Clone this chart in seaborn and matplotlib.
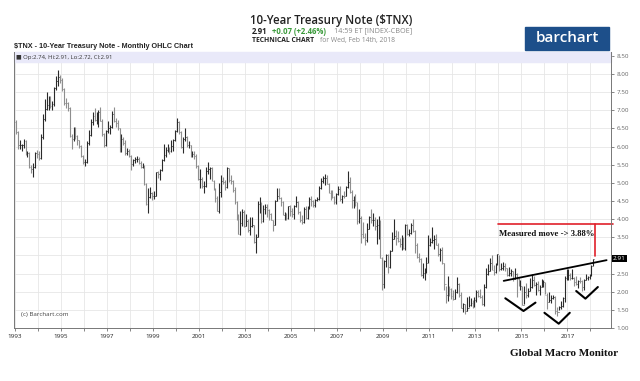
import numpy as np
import pandas as pd
import seaborn as sns
import matplotlib.pyplot as plt
import matplotlib.transforms as mtransforms
from matplotlib.patches import Rectangle

# monthly OHLC of $TNX, Jan 1993 .. Feb 2018 (one row per year)
opens = [
    6.69, 6.39, 6.03, 6.03, 6.04, 6.15, 5.78, 5.81, 5.44, 5.38, 5.43, 5.82,
    5.79, 5.69, 6.27, 6.75, 7.03, 7.14, 7.32, 7.11, 7.18, 7.60, 7.81, 7.91,
    7.82, 7.59, 7.21, 7.20, 7.06, 6.28, 6.20, 6.44, 6.28, 6.17, 6.02, 5.74,
    5.57, 5.58, 6.10, 6.33, 6.67, 6.85, 6.73, 6.80, 6.96, 6.71, 6.34, 6.04,
    6.42, 6.50, 6.55, 6.90, 6.71, 6.66, 6.50, 5.89, 6.22, 6.10, 5.83, 5.87,
    5.74, 5.51, 5.62, 5.66, 5.67, 5.55, 5.45, 5.49, 4.98, 4.42, 4.61, 4.71,
    4.65, 4.65, 5.29, 5.24, 5.35, 5.62, 5.78, 5.90, 5.97, 5.88, 6.02, 6.19,
    6.44, 6.67, 6.41, 6.00, 6.21, 6.27, 6.03, 6.03, 5.73, 5.80, 5.75, 5.47,
    5.11, 5.11, 4.90, 4.92, 5.34, 5.38, 5.41, 5.05, 4.83, 4.59, 4.23, 4.75,
    5.05, 5.03, 4.88, 5.40, 5.09, 5.04, 4.80, 4.46, 4.14, 3.60, 3.89, 4.21,
    3.81, 3.96, 3.69, 3.80, 3.84, 3.37, 3.51, 4.41, 4.46, 3.94, 4.29, 4.33,
    4.25, 4.13, 3.97, 3.84, 4.51, 4.65, 4.58, 4.47, 4.12, 4.12, 4.03, 4.36,
    4.22, 4.13, 4.36, 4.48, 4.20, 3.98, 3.91, 4.28, 4.02, 4.32, 4.56, 4.49,
    4.39, 4.52, 4.55, 4.85, 5.05, 5.12, 5.14, 4.98, 4.73, 4.63, 4.61, 4.46,
    4.70, 4.83, 4.56, 4.65, 4.63, 4.89, 5.02, 4.74, 4.54, 4.58, 4.47, 3.94,
    4.03, 3.59, 3.51, 3.43, 3.73, 4.06, 3.97, 3.99, 3.82, 3.83, 3.95, 2.92,
    2.21, 2.84, 3.01, 2.67, 3.12, 3.46, 3.53, 3.48, 3.40, 3.31, 3.38, 3.20,
    3.84, 3.60, 3.61, 3.83, 3.66, 3.29, 2.95, 2.91, 2.47, 2.51, 2.60, 2.79,
    3.29, 3.37, 3.42, 3.45, 3.29, 3.05, 3.16, 2.79, 2.22, 1.92, 2.11, 2.07,
    1.88, 1.80, 1.98, 2.21, 1.91, 1.56, 1.65, 1.47, 1.55, 1.63, 1.69, 1.61,
    1.76, 1.98, 1.88, 1.85, 1.67, 2.13, 2.49, 2.58, 2.78, 2.61, 2.55, 2.74,
    3.03, 2.64, 2.65, 2.72, 2.65, 2.47, 2.53, 2.56, 2.34, 2.49, 2.34, 2.16,
    2.17, 1.64, 1.99, 1.92, 2.03, 2.12, 2.33, 2.18, 2.21, 2.04, 2.14, 2.21,
    2.27, 1.92, 1.73, 1.77, 1.83, 1.85, 1.47, 1.45, 1.58, 1.60, 1.83, 2.38,
    2.44, 2.45, 2.39, 2.39, 2.28, 2.20, 2.30, 2.29, 2.12, 2.33, 2.38, 2.41,
    2.41, 2.74,
]
highs = [
    6.72, 6.42, 6.18, 6.08, 6.20, 6.17, 5.88, 5.84, 5.50, 5.55, 5.86, 5.90,
    5.88, 6.35, 6.90, 7.30, 7.50, 7.40, 7.40, 7.25, 7.65, 7.95, 8.10, 7.96,
    7.90, 7.62, 7.35, 7.22, 7.08, 6.35, 6.55, 6.55, 6.32, 6.18, 6.05, 5.78,
    5.67, 6.15, 6.45, 6.75, 6.95, 7.05, 6.95, 7.00, 7.08, 6.75, 6.37, 6.45,
    6.70, 6.60, 6.97, 7.08, 6.80, 6.72, 6.52, 6.35, 6.25, 6.18, 5.96, 5.92,
    5.76, 5.66, 5.72, 5.74, 5.72, 5.60, 5.55, 5.50, 5.00, 4.85, 4.88, 4.76,
    4.78, 5.31, 5.34, 5.38, 5.65, 6.08, 5.98, 6.06, 6.00, 6.19, 6.22, 6.46,
    6.79, 6.70, 6.43, 6.26, 6.51, 6.30, 6.14, 6.05, 5.88, 5.87, 5.79, 5.49,
    5.38, 5.17, 5.05, 5.44, 5.57, 5.45, 5.43, 5.07, 4.86, 4.64, 4.99, 5.23,
    5.16, 5.07, 5.44, 5.40, 5.23, 5.07, 4.88, 4.51, 4.15, 4.22, 4.28, 4.24,
    4.13, 4.00, 4.06, 4.05, 3.85, 3.58, 4.50, 4.61, 4.47, 4.40, 4.43, 4.42,
    4.27, 4.18, 3.99, 4.53, 4.87, 4.87, 4.60, 4.51, 4.20, 4.18, 4.37, 4.39,
    4.30, 4.38, 4.64, 4.50, 4.22, 4.11, 4.33, 4.37, 4.35, 4.62, 4.65, 4.52,
    4.55, 4.62, 4.90, 5.13, 5.19, 5.25, 5.22, 5.00, 4.80, 4.79, 4.65, 4.72,
    4.90, 4.90, 4.67, 4.78, 4.91, 5.32, 5.15, 4.79, 4.65, 4.70, 4.48, 4.28,
    4.08, 3.91, 3.63, 3.90, 4.08, 4.27, 4.17, 4.07, 4.01, 4.10, 3.99, 2.96,
    2.88, 3.05, 3.04, 3.16, 3.64, 4.00, 3.71, 3.68, 3.48, 3.55, 3.50, 3.86,
    3.88, 3.74, 3.90, 4.01, 3.69, 3.34, 3.07, 2.93, 2.78, 2.65, 2.95, 3.56,
    3.49, 3.77, 3.56, 3.59, 3.33, 3.20, 3.23, 2.80, 2.17, 2.42, 2.16, 2.09,
    2.06, 2.07, 2.40, 2.23, 1.98, 1.70, 1.66, 1.85, 1.88, 1.84, 1.77, 1.85,
    2.04, 2.06, 2.08, 1.90, 2.21, 2.66, 2.77, 2.93, 3.00, 2.74, 2.80, 3.04,
    3.01, 2.80, 2.82, 2.78, 2.66, 2.67, 2.63, 2.58, 2.65, 2.52, 2.40, 2.31,
    2.15, 2.15, 2.24, 2.10, 2.38, 2.50, 2.44, 2.28, 2.29, 2.18, 2.36, 2.33,
    2.27, 1.96, 1.99, 1.90, 1.92, 1.87, 1.59, 1.61, 1.74, 1.86, 2.42, 2.64,
    2.62, 2.52, 2.63, 2.41, 2.42, 2.33, 2.41, 2.32, 2.35, 2.48, 2.42, 2.50,
    2.73, 2.91,
]
lows = [
    6.35, 5.92, 5.93, 5.88, 5.96, 5.76, 5.70, 5.40, 5.28, 5.17, 5.40, 5.68,
    5.63, 5.65, 6.22, 6.70, 7.00, 7.00, 7.05, 7.02, 7.13, 7.55, 7.68, 7.75,
    7.52, 7.15, 7.05, 6.98, 6.25, 5.94, 6.15, 6.22, 6.05, 5.95, 5.70, 5.53,
    5.47, 5.55, 6.05, 6.30, 6.60, 6.70, 6.62, 6.55, 6.70, 6.30, 6.00, 6.02,
    6.38, 6.35, 6.52, 6.68, 6.55, 6.45, 5.85, 5.85, 6.05, 5.78, 5.76, 5.70,
    5.35, 5.46, 5.55, 5.58, 5.51, 5.40, 5.40, 4.95, 4.40, 4.16, 4.58, 4.52,
    4.55, 4.63, 5.13, 5.08, 5.33, 5.60, 5.72, 5.84, 5.79, 5.84, 5.87, 6.15,
    6.40, 6.34, 5.96, 5.83, 6.16, 5.98, 5.97, 5.71, 5.71, 5.66, 5.42, 5.09,
    4.87, 4.87, 4.72, 4.88, 5.25, 5.10, 5.04, 4.80, 4.47, 4.23, 4.18, 4.60,
    4.97, 4.80, 4.87, 5.03, 4.97, 4.76, 4.43, 3.98, 3.58, 3.57, 3.80, 3.78,
    3.82, 3.65, 3.57, 3.77, 3.33, 3.07, 3.50, 4.17, 3.90, 3.91, 4.14, 4.05,
    3.99, 3.97, 3.68, 3.83, 4.50, 4.55, 4.36, 4.11, 3.98, 3.97, 4.00, 4.10,
    4.06, 4.00, 4.34, 4.14, 3.93, 3.86, 3.90, 4.00, 4.00, 4.29, 4.36, 4.33,
    4.34, 4.50, 4.53, 4.84, 4.99, 4.95, 4.96, 4.72, 4.54, 4.58, 4.43, 4.42,
    4.67, 4.50, 4.44, 4.59, 4.63, 4.86, 4.72, 4.30, 4.30, 4.36, 3.86, 3.90,
    3.34, 3.47, 3.29, 3.37, 3.72, 3.90, 3.82, 3.69, 3.31, 3.45, 2.92, 2.04,
    2.11, 2.68, 2.51, 2.66, 3.12, 3.44, 3.28, 3.37, 3.22, 3.16, 3.19, 3.15,
    3.56, 3.54, 3.60, 3.64, 3.07, 2.94, 2.82, 2.42, 2.39, 2.33, 2.51, 2.78,
    3.26, 3.35, 3.18, 3.28, 2.98, 2.85, 2.77, 2.04, 1.70, 1.75, 1.87, 1.80,
    1.78, 1.79, 1.96, 1.86, 1.54, 1.44, 1.38, 1.47, 1.57, 1.61, 1.55, 1.58,
    1.72, 1.86, 1.82, 1.63, 1.61, 2.09, 2.45, 2.57, 2.59, 2.47, 2.51, 2.73,
    2.57, 2.59, 2.60, 2.58, 2.43, 2.44, 2.44, 2.30, 2.34, 1.86, 2.15, 2.06,
    1.64, 1.65, 1.84, 1.85, 2.03, 2.09, 2.15, 1.91, 2.02, 1.90, 2.13, 2.12,
    1.93, 1.53, 1.72, 1.70, 1.79, 1.40, 1.32, 1.49, 1.53, 1.59, 1.72, 2.31,
    2.31, 2.31, 2.34, 2.17, 2.19, 2.10, 2.23, 2.03, 2.04, 2.31, 2.31, 2.34,
    2.44, 2.72,
]
closes = [
    6.39, 6.03, 6.03, 6.04, 6.15, 5.78, 5.81, 5.44, 5.38, 5.43, 5.82, 5.79,
    5.69, 6.27, 6.75, 7.03, 7.14, 7.32, 7.11, 7.18, 7.60, 7.81, 7.91, 7.82,
    7.59, 7.21, 7.20, 7.06, 6.28, 6.20, 6.44, 6.28, 6.17, 6.02, 5.74, 5.57,
    5.58, 6.10, 6.33, 6.67, 6.85, 6.73, 6.80, 6.96, 6.71, 6.34, 6.04, 6.42,
    6.50, 6.55, 6.90, 6.71, 6.66, 6.50, 5.89, 6.22, 6.10, 5.83, 5.87, 5.74,
    5.51, 5.62, 5.66, 5.67, 5.55, 5.45, 5.49, 4.98, 4.42, 4.61, 4.71, 4.65,
    4.65, 5.29, 5.24, 5.35, 5.62, 5.78, 5.90, 5.97, 5.88, 6.02, 6.19, 6.44,
    6.67, 6.41, 6.00, 6.21, 6.27, 6.03, 6.03, 5.73, 5.80, 5.75, 5.47, 5.11,
    5.11, 4.90, 4.92, 5.34, 5.38, 5.41, 5.05, 4.83, 4.59, 4.23, 4.75, 5.05,
    5.03, 4.88, 5.40, 5.09, 5.04, 4.80, 4.46, 4.14, 3.60, 3.89, 4.21, 3.81,
    3.96, 3.69, 3.80, 3.84, 3.37, 3.51, 4.41, 4.46, 3.94, 4.29, 4.33, 4.25,
    4.13, 3.97, 3.84, 4.51, 4.65, 4.58, 4.47, 4.12, 4.12, 4.03, 4.36, 4.22,
    4.13, 4.36, 4.48, 4.20, 3.98, 3.91, 4.28, 4.02, 4.32, 4.56, 4.49, 4.39,
    4.52, 4.55, 4.85, 5.05, 5.12, 5.14, 4.98, 4.73, 4.63, 4.61, 4.46, 4.70,
    4.83, 4.56, 4.65, 4.63, 4.89, 5.02, 4.74, 4.54, 4.58, 4.47, 3.94, 4.03,
    3.59, 3.51, 3.43, 3.73, 4.06, 3.97, 3.99, 3.82, 3.83, 3.95, 2.92, 2.21,
    2.84, 3.01, 2.67, 3.12, 3.46, 3.53, 3.48, 3.40, 3.31, 3.38, 3.20, 3.84,
    3.60, 3.61, 3.83, 3.66, 3.29, 2.95, 2.91, 2.47, 2.51, 2.60, 2.79, 3.29,
    3.37, 3.42, 3.45, 3.29, 3.05, 3.16, 2.79, 2.22, 1.92, 2.11, 2.07, 1.88,
    1.80, 1.98, 2.21, 1.91, 1.56, 1.65, 1.47, 1.55, 1.63, 1.69, 1.61, 1.76,
    1.98, 1.88, 1.85, 1.67, 2.13, 2.49, 2.58, 2.78, 2.61, 2.55, 2.74, 3.03,
    2.64, 2.65, 2.72, 2.65, 2.47, 2.53, 2.56, 2.34, 2.49, 2.34, 2.16, 2.17,
    1.64, 1.99, 1.92, 2.03, 2.12, 2.33, 2.18, 2.21, 2.04, 2.14, 2.21, 2.27,
    1.92, 1.73, 1.77, 1.83, 1.85, 1.47, 1.45, 1.58, 1.60, 1.83, 2.38, 2.44,
    2.45, 2.39, 2.39, 2.28, 2.20, 2.30, 2.29, 2.12, 2.33, 2.38, 2.41, 2.41,
    2.72, 2.91,
]
year_ticks = list(range(1993, 2019, 2))
price_ticks = [1.00, 1.50, 2.00, 2.50, 3.00, 3.50, 4.00, 4.50, 5.00, 5.50,
               6.00, 6.50, 7.00, 7.50, 8.00, 8.50]

# hand drawn annotations (year, yield)
trend_x = [2014.23, 2018.70]
trend_y = [2.30, 2.87]
v1_x = [2014.30, 2015.09, 2015.61]
v1_y = [1.82, 1.47, 1.70]
v2_x = [2016.00, 2016.62, 2017.10]
v2_y = [1.42, 1.12, 1.42]
v3_x = [2017.38, 2017.78, 2018.32]
v3_y = [2.02, 1.81, 2.13]
target = 3.88

dates = pd.date_range("1993-01-01", periods=len(closes), freq="MS")
df = pd.DataFrame({"date": dates, "open": opens, "high": highs,
                   "low": lows, "close": closes})
df["t"] = df["date"].dt.year + (df["date"].dt.month - 0.5) / 12
df["up"] = df["close"] >= df["open"]

sns.set_theme(style="whitegrid")
plt.rcParams["font.family"] = ["Open Sans", "DejaVu Sans"]

fig = plt.figure(figsize=(6.4, 3.81), dpi=100)
ax = fig.add_axes([0.022, 0.139, 0.933, 0.725])

up_col, dn_col = "#2a2a2a", "#8e8e8e"
cols = np.where(df["up"], up_col, dn_col)
w = 0.035
ax.vlines(df["t"], df["low"], df["high"], colors=cols, lw=0.8)
ax.hlines(df["open"], df["t"] - w, df["t"], colors=cols, lw=0.6)
ax.hlines(df["close"], df["t"], df["t"] + w, colors=cols, lw=0.6)

ax.set_xlim(1992.96, 2018.9)
ax.set_ylim(1.0, 8.61)
ax.set_xticks(range(1993, 2019))
ax.set_xticklabels([str(y) if y in year_ticks else "" for y in range(1993, 2019)])
ax.set_yticks(price_ticks)
# the 3.00 label sits under the last-price tag
ax.set_yticklabels(["" if p == 3.0 else f"{p:.2f}" for p in price_ticks])
ax.yaxis.tick_right()
ax.grid(True, color="#e6e6e6", lw=0.6)
ax.tick_params(axis="both", labelsize=4.5, colors="#555555", length=2.5,
               width=0.5, pad=1.5, direction="out")
ax.tick_params(axis="x", bottom=True, labelcolor="#222222")
ax.tick_params(axis="y", right=True, labelcolor="#666666")
ax.spines["top"].set_visible(False)
for side in ["left", "bottom", "right"]:
    ax.spines[side].set_color("#777777")
    ax.spines[side].set_linewidth(0.7)

# lavender info band on top of the plot
ax.add_patch(Rectangle((0, 0.962), 1, 0.038, transform=ax.transAxes,
                       color="#e9e9f9", zorder=1, clip_on=False))
ax.text(0.004, 0.981, "\u25a0 Op:2.74, Hi:2.91, Lo:2.72, Cl:2.91",
        transform=ax.transAxes, fontsize=4.3, va="center", color="#333333")
ax.text(0.012, 0.05, "(c) Barchart.com", transform=ax.transAxes,
        fontsize=4.5, color="#444444", va="center")

# annotations
ax.plot(trend_x, trend_y, color="black", lw=1.3, clip_on=False)
for vx, vy in [(v1_x, v1_y), (v2_x, v2_y), (v3_x, v3_y)]:
    ax.plot(vx, vy, color="black", lw=1.5)
ax.plot([2014.0, 2018.96], [target, target], color="#e0202a", lw=1.2,
        clip_on=False)
ax.plot([2018.19, 2018.19], [target, 2.99], color="#e0202a", lw=1.2)
ax.text(2014.04, 3.58, "Measured move -> 3.88%", fontsize=6.3,
        family="Liberation Serif", fontweight="bold", color="#111111",
        va="center")

# last price tag
blend = mtransforms.blended_transform_factory(ax.transAxes, ax.transData)
ax.text(1.003, closes[-1], f"{closes[-1]:.2f}", transform=blend, fontsize=4.6,
        color="white", va="center", ha="left", clip_on=False,
        bbox=dict(boxstyle="square,pad=0.15", fc="black", ec="none"))

# header
fig.text(0.518, 0.946, "10-Year Treasury Note ($TNX)", fontsize=8.3,
         ha="center", va="center", color="#222222", fontweight="semibold")
fig.text(0.393, 0.918, "2.91", fontsize=5.6, fontweight="bold",
         color="#222222", va="center")
fig.text(0.425, 0.918, "+0.07 (+2.46%)", fontsize=5.6, fontweight="bold",
         color="#3a9a3a", va="center")
fig.text(0.522, 0.918, "14:59 ET [INDEX-CBOE]", fontsize=5.2,
         color="#888888", va="center")
fig.text(0.393, 0.893, "TECHNICAL CHART", fontsize=4.9, fontweight="bold",
         color="#222222", va="center")
fig.text(0.500, 0.893, "for Wed, Feb 14th, 2018", fontsize=4.9,
         color="#888888", va="center")
fig.text(0.022, 0.878, "$TNX - 10-Year Treasury Note - Monthly OHLC Chart",
         fontsize=5.2, fontweight="bold", color="#222222", va="center",
         family="Liberation Sans")

fig.patches.append(Rectangle((0.821, 0.869), 0.131, 0.061,
                             transform=fig.transFigure, color="#1d4f8a"))
fig.text(0.886, 0.899, "barchart", fontsize=11, color="white", ha="center",
         va="center", fontweight="semibold")

fig.text(0.797, 0.071, "Global Macro Monitor", fontsize=8,
         family="Liberation Serif", fontweight="bold", color="#111111",
         va="center")

fig.savefig("out.png", dpi=100, facecolor="white")
